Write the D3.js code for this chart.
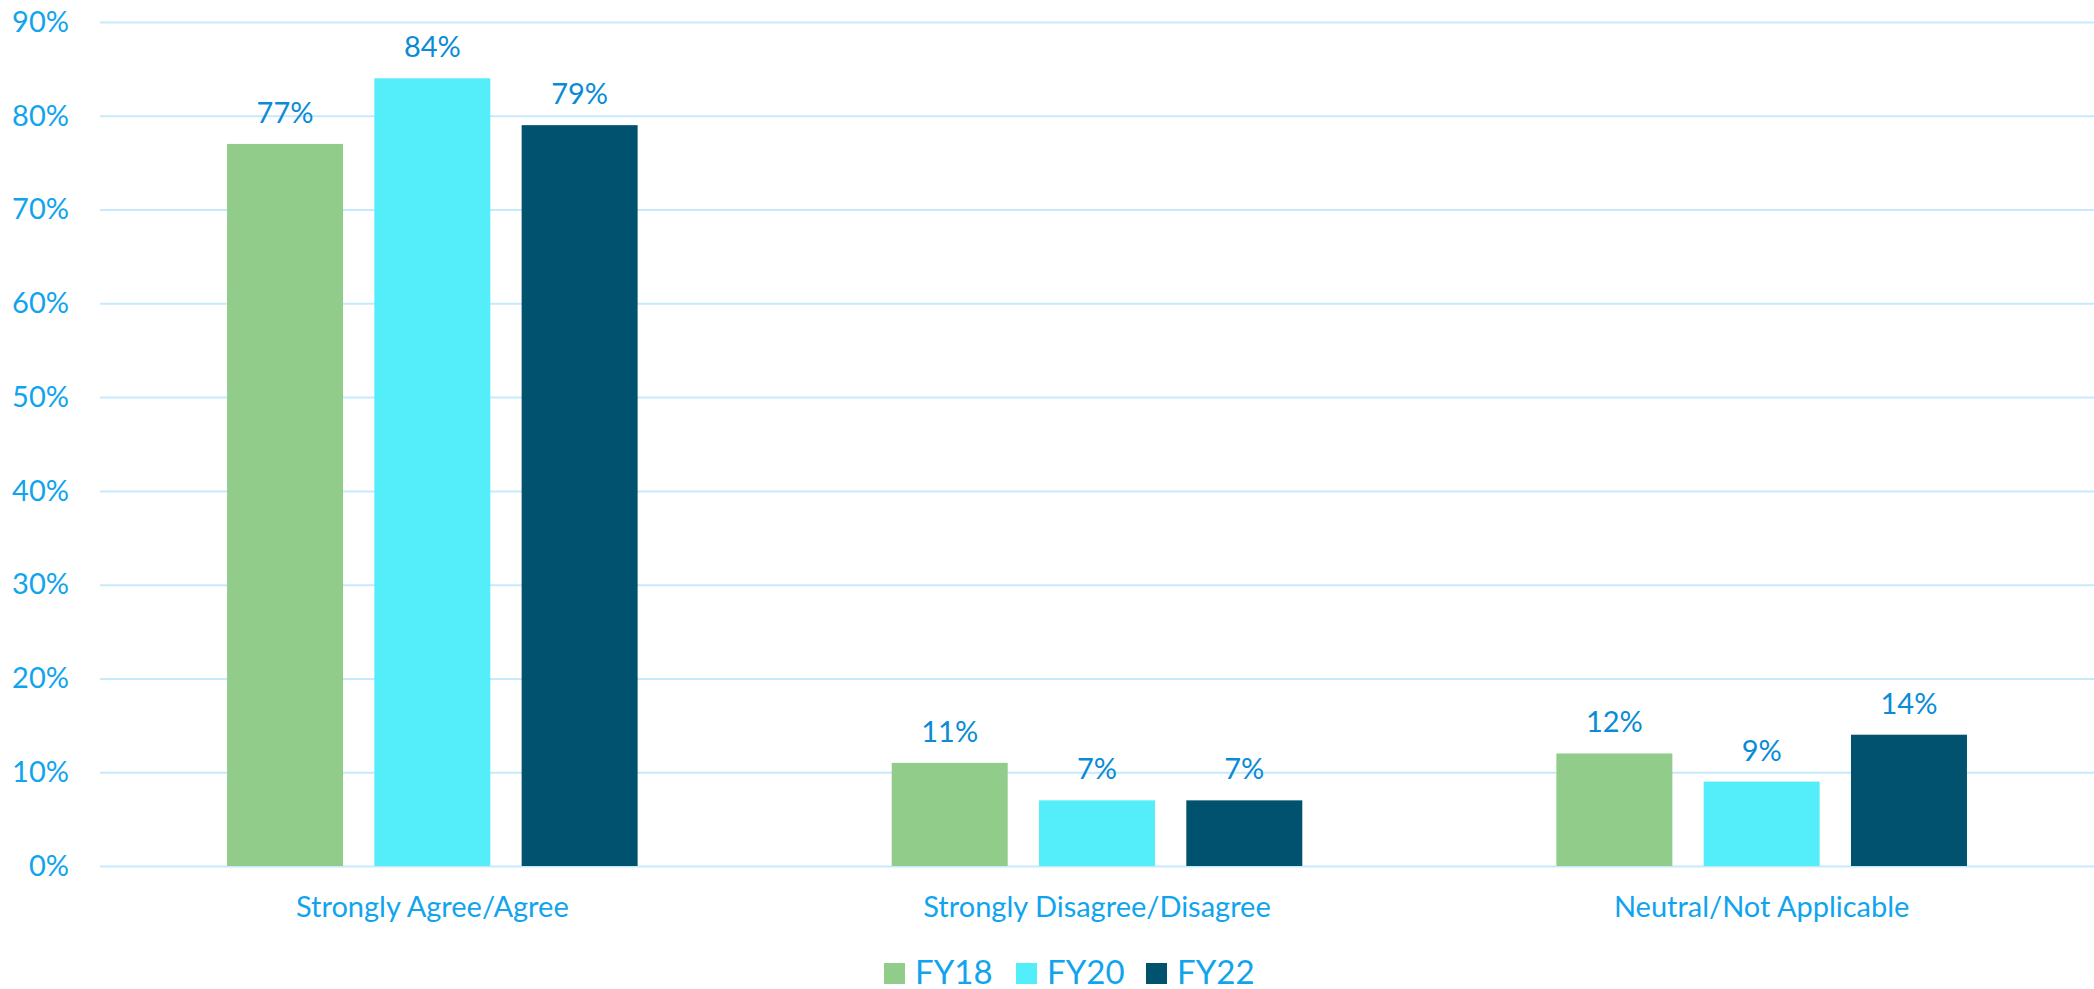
<!DOCTYPE html>
<html>
<head>
<meta charset="utf-8">
<script src="https://cdn.jsdelivr.net/npm/d3@7"></script>
<style>
  body { margin: 0; background: #fff; }
  svg { display: block; }
  text { font-family: Lato, "Open Sans", sans-serif; }
</style>
</head>
<body>
<svg id="chart" width="2094" height="989"></svg>
<script>
// Survey responses by fiscal year (percent of respondents)
const categories = ["Strongly Agree/Agree", "Strongly Disagree/Disagree", "Neutral/Not Applicable"];
const seriesNames = ["FY18", "FY20", "FY22"];
const fy18 = [77, 11, 12];
const fy20 = [84, 7, 9];
const fy22 = [79, 7, 14];
const yTicks = [0, 10, 20, 30, 40, 50, 60, 70, 80, 90];

const seriesValues = [fy18, fy20, fy22];
const colors = ["#92cc8b", "#54eefb", "#00526f"];

const svg = d3.select("#chart");
const plot = { left: 100, right: 2094, top: 22, bottom: 866 };

const x0 = d3.scaleBand().domain(categories).range([plot.left, plot.right]).paddingInner(0).paddingOuter(0);
const y = d3.scaleLinear().domain([0, 90]).range([plot.bottom, plot.top]);

// bar geometry within each category band
const barW = x0.bandwidth() * 0.1745;
const step = barW * 1.27;
const xBar = (cat, i) => x0(cat) + x0.bandwidth() / 2 + (i - 1) * step - barW / 2;

// gridlines + y tick labels
const yAxis = svg.append("g")
  .attr("transform", `translate(${plot.left},0)`)
  .call(d3.axisLeft(y).tickValues(yTicks).tickSize(-(plot.right - plot.left)).tickPadding(31).tickFormat(d => d + "%"));
yAxis.select(".domain").remove();
yAxis.selectAll(".tick line").attr("stroke", "#c6e9fb").attr("stroke-width", 2);
yAxis.selectAll(".tick text")
  .attr("fill", "#10a4ee")
  .style("font-size", "29px");

// category labels
const xAxis = svg.append("g")
  .attr("transform", `translate(0,${plot.bottom})`)
  .call(d3.axisBottom(x0).tickSize(0).tickPadding(30));
xAxis.select(".domain").remove();
xAxis.selectAll(".tick text")
  .attr("fill", "#10a4ee")
  .style("font-size", "29px");

// bars
const rows = [];
categories.forEach((cat, ci) => {
  seriesValues.forEach((vals, si) => rows.push({ cat, si, v: vals[ci] }));
});

svg.append("g").selectAll("rect")
  .data(rows)
  .join("rect")
  .attr("x", d => xBar(d.cat, d.si))
  .attr("y", d => y(d.v))
  .attr("width", barW)
  .attr("height", d => y(0) - y(d.v))
  .attr("fill", d => colors[d.si]);

// value labels
svg.append("g").selectAll("text")
  .data(rows)
  .join("text")
  .attr("x", d => xBar(d.cat, d.si) + barW / 2)
  .attr("y", d => y(d.v) - 21)
  .attr("text-anchor", "middle")
  .attr("fill", "#0a8bd6")
  .style("font-size", "29px")
  .text(d => d.v + "%");

// legend
const legendX = [884, 1016, 1146];
const legend = svg.append("g").selectAll("g")
  .data(seriesNames)
  .join("g")
  .attr("transform", (d, i) => `translate(${legendX[i]},963)`);
legend.append("rect").attr("width", 21).attr("height", 21).attr("fill", (d, i) => colors[i]);
legend.append("text")
  .attr("x", 31).attr("y", 21)
  .attr("fill", "#10a4ee")
  .style("font-size", "33px")
  .text(d => d);
</script>
</body>
</html>
